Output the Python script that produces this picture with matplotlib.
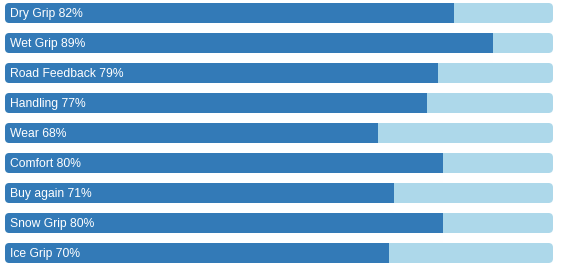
import matplotlib
matplotlib.use("Agg")
import matplotlib.pyplot as plt
from matplotlib.patches import FancyBboxPatch

categories = ["Dry Grip", "Wet Grip", "Road Feedback", "Handling", "Wear",
              "Comfort", "Buy again", "Snow Grip", "Ice Grip"]
values = [82, 89, 79, 77, 68, 80, 71, 80, 70]

W, H = 562, 267
fig = plt.figure(figsize=(W / 100, H / 100), dpi=100)
ax = fig.add_axes([5 / W, 0, 548 / W, 1])
ax.set_xlim(0, 100)
ax.set_ylim(H / 30 - 13 / 30, -13 / 30)
ax.axis("off")

px_x = 548 / 100  # pixels per percent
px_y = 30         # pixels per row
radius = 4.5 / px_x
height = 20 / 30

for i, (cat, val) in enumerate(zip(categories, values)):
    clip = FancyBboxPatch((0, i - height / 2), 100, height,
                          boxstyle=f"round,pad=0,rounding_size={radius}",
                          mutation_aspect=px_x / px_y,
                          transform=ax.transData, facecolor="none", edgecolor="none")
    ax.add_patch(clip)
    bg = ax.barh(i, 100, height=height, color="#add8ea", linewidth=0)
    fg = ax.barh(i, val, height=height, color="#337ab7", linewidth=0)
    for b in list(bg) + list(fg):
        b.set_clip_path(clip)
    ax.text(4.5 / px_x, i + 0.02, f"{cat} {val}%", color="white", va="center", ha="left",
            fontsize=8.7, family="Liberation Sans")

fig.savefig("out.png", dpi=100)
